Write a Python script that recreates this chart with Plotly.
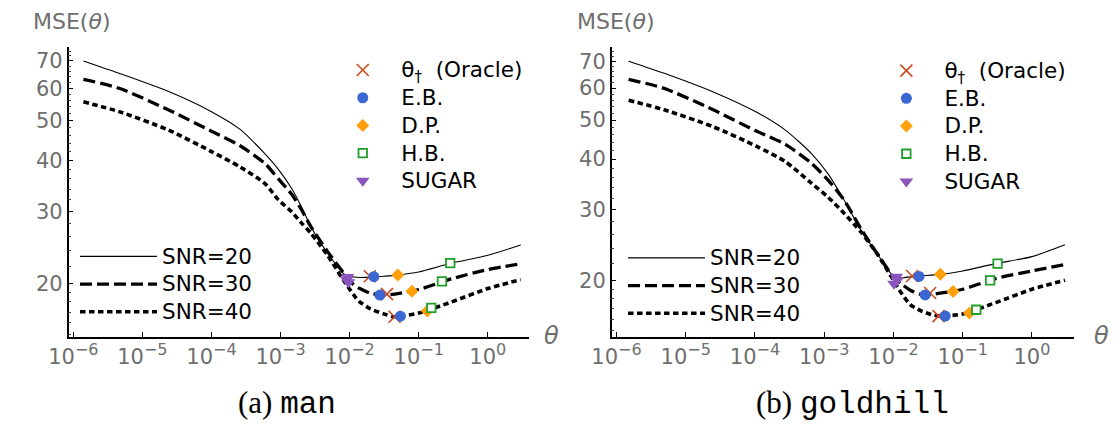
import plotly.graph_objects as go

# ---------------- data ----------------
# panel (a) man
man_theta = [1.4e-6, 4.6e-6, 2.4e-5, 1.0e-4, 2.6e-4, 6.0e-4, 9.3e-4, 1.45e-3, 2.0e-3,
             2.75e-3, 4.8e-3, 8.2e-3, 1.15e-2, 1.4e-2, 2.0e-2, 3.2e-2, 4.5e-2, 0.1, 0.3, 1.0, 3.0]
man_snr20 = [70.0, 65.3, 58.9, 52.6, 47.6, 41.4, 38.0, 34.1, 30.8,
             27.5, 23.7, 21.1, 20.7, 20.65, 20.7, 20.8, 20.9, 21.3, 22.4, 23.4, 24.8]
man_snr30 = [63.1, 60.0, 53.1, 47.1, 43.4, 39.2, 36.0, 33.0, 30.3,
             27.5, 23.9, 21.2, 19.8, 19.4, 18.9, 18.7, 18.8, 19.3, 20.5, 21.6, 22.3]
man_snr40 = [55.6, 52.6, 47.4, 42.0, 38.5, 35.0, 32.0, 29.9, 28.1,
             26.5, 23.4, 20.3, 18.7, 18.0, 17.3, 16.8, 16.55, 16.9, 18.0, 19.4, 20.4]

man_oracle_x = [0.0196, 0.0347, 0.0447]
man_oracle_y = [20.8, 18.8, 16.55]
man_eb_x = [0.0224, 0.0274, 0.0543]
man_eb_y = [20.75, 18.7, 16.6]
man_dp_x = [0.0498, 0.0798, 0.133]
man_dp_y = [20.95, 19.1, 17.1]
man_hb_x = [0.286, 0.217, 0.152]
man_hb_y = [22.4, 20.2, 17.4]
man_sugar_x = [0.0093, 0.0091, 0.0096]
man_sugar_y = [20.7, 20.4, 20.1]

# panel (b) goldhill
gold_theta = [1.5e-6, 4.9e-6, 2.5e-5, 1.03e-4, 2.75e-4, 6.6e-4, 1.13e-3, 1.95e-3, 3.37e-3,
              5.8e-3, 1.0e-2, 1.3e-2, 1.75e-2, 2.5e-2, 3.5e-2, 5.0e-2, 0.1, 0.3, 1.0, 3.0]
gold_snr20 = [70.0, 65.3, 58.7, 52.4, 47.2, 41.2, 36.8, 31.6, 26.7,
              23.3, 20.5, 20.3, 20.4, 20.5, 20.6, 20.7, 21.1, 22.0, 22.9, 24.5]
gold_snr30 = [63.1, 59.9, 53.0, 47.0, 43.5, 39.0, 35.5, 31.6, 26.9,
              23.3, 20.4, 19.6, 18.9, 18.45, 18.45, 18.6, 19.0, 20.2, 21.1, 21.9]
gold_snr40 = [56.0, 53.0, 48.1, 43.1, 39.4, 34.8, 32.2, 29.3, 26.4,
              23.3, 20.0, 18.6, 17.4, 16.8, 16.45, 16.3, 16.5, 17.6, 19.0, 20.0]

gold_oracle_x = [0.0186, 0.0339, 0.0449]
gold_oracle_y = [20.5, 18.6, 16.3]
gold_eb_x = [0.0234, 0.0287, 0.056]
gold_eb_y = [20.45, 18.4, 16.3]
gold_dp_x = [0.0475, 0.0726, 0.125]
gold_dp_y = [20.7, 18.75, 16.6]
gold_hb_x = [0.319, 0.249, 0.157]
gold_hb_y = [22.0, 20.0, 16.9]
gold_sugar_x = [0.0110, 0.0113, 0.0102]
gold_sugar_y = [20.4, 20.0, 19.6]

x_tickvals = [1e-6, 1e-5, 1e-4, 1e-3, 1e-2, 1e-1, 1e0]
x_exponents = ["\u22126", "\u22125", "\u22124", "\u22123", "\u22122", "\u22121", "0"]
x_ticktext = ['10<sup><span style="font-size:16px">' + e + "</span></sup>" for e in x_exponents]
y_tickvals = [20, 30, 40, 50, 60, 70]
y_ticktext = ["20", "30", "40", "50", "60", "70"]
y_minorvals = [15, 16, 17, 18, 19, 22, 24, 26, 28, 32, 34, 36, 38, 42, 44, 46, 48,
               52, 54, 56, 58, 62, 64, 66, 68, 72, 74]

snr_labels = ["SNR=20", "SNR=30", "SNR=40"]
method_labels = ["\u03b8<sub>\u2020</sub>  (Oracle)", "E.B.", "D.P.", "H.B.", "SUGAR"]
panel_titles = ["(a) ", "(b) "]
panel_names = ["man", "goldhill"]

# ---------------- styles ----------------
W, H = 1120, 425
GREY = "#6e6e6e"
line_styles = [dict(color="black", width=1.1, dash="solid"),
               dict(color="black", width=3.3, dash="12px,5px"),
               dict(color="black", width=3.6, dash="5.5px,3.5px")]
marker_styles = [
    dict(symbol="x-thin", size=12, line=dict(color="#D0481C", width=1.6), color="#D0481C"),
    dict(symbol="circle", size=11, color="#3B67D3", line=dict(width=0)),
    dict(symbol="diamond", size=10, color="#FFA00A", line=dict(width=0)),
    dict(symbol="square", size=8.5, color="white", line=dict(color="#1F9E2A", width=1.8)),
    dict(symbol="triangle-down", size=12, color="#8B55BE", line=dict(width=0)),
]

def lbl(t, pad=""):
    return pad + '<span style="font-size:21.5px">' + t + "</span>"

PAD = "\u00a0\u00a0"

fig = go.Figure()

panels = [
    dict(theta=man_theta, curves=[man_snr20, man_snr30, man_snr40],
         mx=[man_oracle_x, man_eb_x, man_dp_x, man_hb_x, man_sugar_x],
         my=[man_oracle_y, man_eb_y, man_dp_y, man_hb_y, man_sugar_y],
         xa="x", ya="y", leg_m="legend", leg_l="legend2"),
    dict(theta=gold_theta, curves=[gold_snr20, gold_snr30, gold_snr40],
         mx=[gold_oracle_x, gold_eb_x, gold_dp_x, gold_hb_x, gold_sugar_x],
         my=[gold_oracle_y, gold_eb_y, gold_dp_y, gold_hb_y, gold_sugar_y],
         xa="x2", ya="y2", leg_m="legend3", leg_l="legend4"),
]

for p in panels:
    for lab, ys, ls in zip(snr_labels, p["curves"], line_styles):
        fig.add_trace(go.Scatter(x=p["theta"], y=ys, mode="lines", name=lbl(lab),
                                 line=dict(shape="spline", smoothing=0.7, **ls),
                                 xaxis=p["xa"], yaxis=p["ya"], legend=p["leg_l"],
                                 hoverinfo="skip"))
    for lab, xs, ys, ms in zip(method_labels, p["mx"], p["my"], marker_styles):
        fig.add_trace(go.Scatter(x=xs, y=ys, mode="markers", name=lbl(lab, PAD), marker=ms,
                                 xaxis=p["xa"], yaxis=p["ya"], legend=p["leg_m"],
                                 hoverinfo="skip"))

def px_x(v):
    return v / W

def px_y(v):
    return 1 - v / H

xax_common = dict(type="log", tickmode="array", tickvals=x_tickvals, ticktext=x_ticktext,
                  showline=True, linecolor="black", linewidth=1.5, ticks="inside",
                  ticklen=5, tickwidth=1, tickcolor="black", showgrid=False, zeroline=False,
                  tickfont=dict(family="DejaVu Sans", size=21, color=GREY),
                  mirror=False, fixedrange=True)
yax_common = dict(type="log", tickmode="array", tickvals=y_tickvals, ticktext=y_ticktext,
                  showline=True, linecolor="black", linewidth=1.5, ticks="inside",
                  ticklen=5, tickwidth=1, tickcolor="black", showgrid=False, zeroline=False,
                  tickfont=dict(family="DejaVu Sans", size=21, color=GREY),
                  minor=dict(tickvals=y_minorvals, ticks="inside", ticklen=2.5,
                             tickwidth=1, tickcolor="#444444", showgrid=False),
                  fixedrange=True)

ydom = [px_y(336.7), px_y(46.7)]
fig.update_layout(
    width=W, height=H, margin=dict(l=0, r=0, t=0, b=0),
    paper_bgcolor="white", plot_bgcolor="white",
    xaxis=dict(xax_common, domain=[px_x(49.5), px_x(518)], range=[-6.068, 0.593], anchor="y"),
    yaxis=dict(yax_common, domain=ydom, range=[1.170, 1.880], anchor="x"),
    xaxis2=dict(xax_common, domain=[px_x(602.5), px_x(1072.7)], range=[-6.068, 0.601], anchor="y2"),
    yaxis2=dict(yax_common, domain=ydom, range=[1.161, 1.881], anchor="x2"),
    showlegend=True,
)

leg_common = dict(bgcolor="rgba(0,0,0,0)", borderwidth=0, xanchor="left", yanchor="top",
                  font=dict(family="DejaVu Sans", size=19, color="black"),
                  orientation="v", traceorder="normal", itemclick=False, itemdoubleclick=False)
fig.update_layout(
    legend=dict(leg_common, x=px_x(322), y=px_y(51.2), itemwidth=43),
    legend2=dict(leg_common, x=px_x(56), y=px_y(237.5), itemwidth=77),
    legend3=dict(leg_common, x=px_x(876), y=px_y(51.8), itemwidth=42),
    legend4=dict(leg_common, x=px_x(614), y=px_y(239), itemwidth=77),
)

annotations = []
for mse_x, th_x, title_x, t, n in [(11, 541, 272, panel_titles[0], panel_names[0]),
                                     (565, 1101, 848, panel_titles[1], panel_names[1])]:
    annotations.append(dict(xref="paper", yref="paper", x=px_x(mse_x), y=px_y(21.7),
                            xanchor="left", yanchor="middle", showarrow=False,
                            text="MSE(<i>\u03b8</i>)",
                            font=dict(family="DejaVu Sans", size=22, color=GREY)))
    annotations.append(dict(xref="paper", yref="paper", x=px_x(th_x), y=px_y(336),
                            xanchor="center", yanchor="middle", showarrow=False,
                            text="<i>\u03b8</i>",
                            font=dict(family="DejaVu Sans", size=24, color=GREY)))
    annotations.append(dict(xref="paper", yref="paper", x=px_x(title_x), y=px_y(403.5),
                            xanchor="center", yanchor="middle", showarrow=False,
                            text=t + '<span style="font-family:Liberation Mono">' + n + "</span>",
                            font=dict(family="Liberation Serif", size=31, color="black")))
fig.update_layout(annotations=annotations)

fig.write_html("out.html", config={"displayModeBar": False},
               post_script="document.body.style.margin='0';")
